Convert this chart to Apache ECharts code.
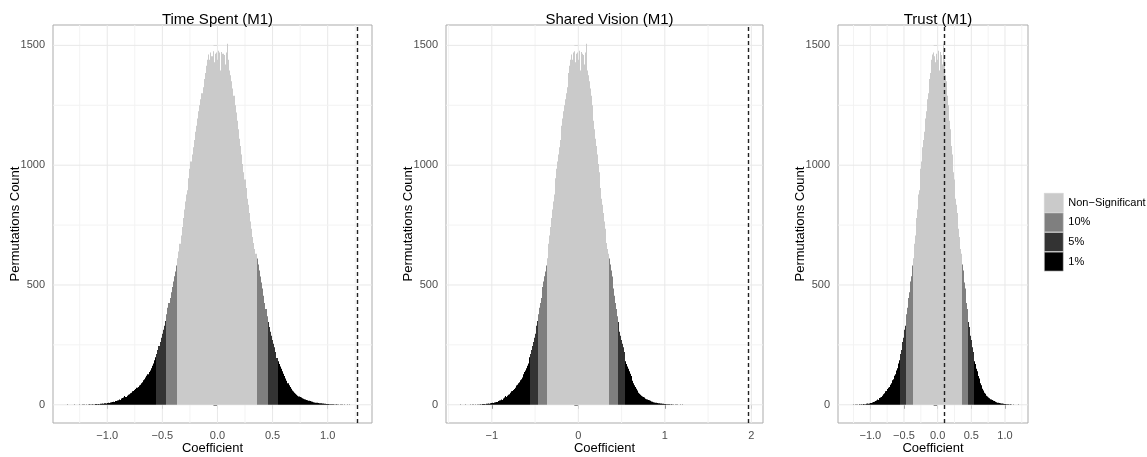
<!DOCTYPE html>
<html>
<head>
<meta charset="utf-8">
<script src="https://cdn.jsdelivr.net/npm/echarts@6/dist/echarts.min.js"></script>
<style>
html,body{margin:0;padding:0;background:#fff;}
#chart{width:1147px;height:457px;}
</style>
</head>
<body>
<div id="chart"></div>
<script>
// ---------------- DATA ----------------
// histogram of permuted coefficients: bins of width 0.01, first bin centred at -1.36
const binCenterStart = -1.36;
const binWidth = 0.01;
const permutationCounts = [
  1,0,0,0,0,0,1,0,0,0,0,1,0,0,1,1,
  0,1,0,1,2,1,1,2,1,3,3,2,3,2,4,4,5,4,6,5,
  7,8,7,10,11,12,13,12,16,18,19,22,20,26,28,30,37,33,38,42,
  44,48,50,56,58,62,66,71,74,81,84,90,94,102,107,114,121,127,137,143,
  152,163,172,186,198,212,229,245,262,280,296,313,330,350,378,405,425,446,470,492,
  515,536,556,581,612,640,672,706,742,780,815,848,878,895,945,985,1015,1045,1075,1105,
  1140,1165,1195,1225,1250,1275,1300,1325,1360,1385,1415,1440,1462,1440,1470,1455,1475,1430,1465,1470,
  1440,1478,1470,1395,1472,1465,1460,1420,1470,1507,1440,1395,1375,1350,1320,1290,1250,1220,1185,1150,
  1110,1080,1045,1005,970,940,905,860,835,800,765,735,700,675,650,630,610,585,560,535,
  510,485,455,425,400,370,345,325,305,288,270,255,240,220,195,182,170,160,150,140,
  130,120,110,100,90,82,74,67,60,55,50,46,42,38,35,32,30,27,25,23,
  22,20,19,17,16,14,13,11,10,9,8,8,7,6,6,5,5,4,4,3,
  3,3,2,2,2,2,1,1,2,1,1,0,1,1,0,1,0,0,1,0,1
];
const panelTitles = ['Time Spent (M1)', 'Shared Vision (M1)', 'Trust (M1)'];
const observedCoefficients = [1.267, 1.97, 0.105];
const significanceLevels = ['Non\u2212Significant', '10%', '5%', '1%'];
const lowerCuts = [-0.365, -0.465, -0.555];
const upperCuts = [0.355, 0.455, 0.545];
const xTickValues = [[-1, -0.5, 0, 0.5, 1], [-1, 0, 1, 2], [-1, -0.5, 0, 0.5, 1]];
const xTickDecimals = [1, 0, 1];
const xMinorValues = [[-1.25, -0.75, -0.25, 0.25, 0.75, 1.25], [-1.5, -0.5, 0.5, 1.5], [-1.25, -0.75, -0.25, 0.25, 0.75, 1.25]];
const yTickValues = [0, 500, 1000, 1500];
const yMinorValues = [250, 750, 1250];
const yAxisTitle = 'Permutations Count';
const xAxisTitle = 'Coefficient';

// ---------------- STYLE / LAYOUT ----------------
const FONT = '"Liberation Sans", Arial, Helvetica, sans-serif';
const levelColors = ['#cacaca', '#7f7f7f', '#333333', '#000000'];
const panels = [
  { left: 53,  width: 319, xMin: -1.492, xMax: 1.402 },
  { left: 446, width: 317, xMin: -1.53,  xMax: 2.135 },
  { left: 838, width: 190, xMin: -1.48,  xMax: 1.342 }
];
const gridTop = 25, gridHeight = 398;
const yMin = -76, yMax = 1585;

function levelOf(center) {
  if (center <= lowerCuts[2] || center >= upperCuts[2]) return 3;
  if (center <= lowerCuts[1] || center >= upperCuts[1]) return 2;
  if (center <= lowerCuts[0] || center >= upperCuts[0]) return 1;
  return 0;
}

// bins split by significance level
const binsByLevel = [[], [], [], []];
permutationCounts.forEach(function (c, i) {
  const center = Math.round((binCenterStart + i * binWidth) * 1000) / 1000;
  const x0 = center - binWidth / 2, x1 = center + binWidth / 2;
  binsByLevel[levelOf(center)].push([x0, x1, c]);
});

function fmtMinus(v, dec) {
  const s = Math.abs(v).toFixed(dec);
  return v < 0 ? '\u2212' + s : s;
}

const grids = [], xAxes = [], yAxes = [], series = [], titles = [];

panels.forEach(function (p, i) {
  grids.push({
    left: p.left, top: gridTop, width: p.width, height: gridHeight,
    outerBoundsMode: 'none', containLabel: false,
    show: true, backgroundColor: '#ffffff', borderColor: '#ababab', borderWidth: 1
  });
  titles.push({
    text: panelTitles[i], left: p.left + p.width / 2, top: 7, textAlign: 'center',
    textStyle: { fontFamily: FONT, fontSize: 15, fontWeight: 'normal', color: '#000' }
  });
  const dec = xTickDecimals[i];
  xAxes.push({
    type: 'value', gridIndex: i, min: p.xMin, max: p.xMax,
    axisLine: { show: false },
    splitLine: { show: false },
    axisTick: { show: true, length: 4, customValues: xTickValues[i], lineStyle: { color: '#666' } },
    axisLabel: {
      customValues: xTickValues[i], margin: 7, interval: 0,
      fontFamily: FONT, fontSize: 11, color: '#4d4d4d',
      formatter: function (v) { return fmtMinus(v, dec); }
    },
    name: xAxisTitle, nameLocation: 'middle', nameGap: 19, nameMoveOverlap: false,
    nameTextStyle: { fontFamily: FONT, fontSize: 13, color: '#000' }
  });
  yAxes.push({
    type: 'value', gridIndex: i, min: yMin, max: yMax,
    axisLine: { show: false },
    splitLine: { show: false },
    axisTick: { show: true, length: 4, customValues: yTickValues, lineStyle: { color: '#666' } },
    axisLabel: {
      customValues: yTickValues, margin: 8, interval: 0,
      fontFamily: FONT, fontSize: 11, color: '#4d4d4d',
      formatter: function (v) { return String(v); }
    },
    name: yAxisTitle, nameLocation: 'middle', nameGap: 31, nameMoveOverlap: false,
    nameTextStyle: { fontFamily: FONT, fontSize: 13, color: '#000' }
  });

  // grid lines (major + minor) drawn through the axes' scales
  const lineData = [];
  xTickValues[i].forEach(function (v) { lineData.push([v, 0, 0, 1]); });
  xMinorValues[i].forEach(function (v) { lineData.push([v, 0, 0, 0]); });
  yTickValues.forEach(function (v) { lineData.push([0, v, 1, 1]); });
  yMinorValues.forEach(function (v) { lineData.push([0, v, 1, 0]); });
  series.push({
    type: 'custom', name: 'grid' + i, xAxisIndex: i, yAxisIndex: i, z: 1, silent: true,
    data: lineData, encode: { x: 0, y: 1 },
    renderItem: function (params, api) {
      const cs = params.coordSys;
      const major = api.value(3) === 1;
      const stroke = major ? '#e8e8e8' : '#f3f3f3';
      if (api.value(2) === 0) {
        const x = api.coord([api.value(0), 0])[0];
        return { type: 'line', shape: { x1: x, y1: cs.y, x2: x, y2: cs.y + cs.height }, style: { stroke: stroke, lineWidth: 1 } };
      } else {
        const y = api.coord([0, api.value(1)])[1];
        return { type: 'line', shape: { x1: cs.x, y1: y, x2: cs.x + cs.width, y2: y }, style: { stroke: stroke, lineWidth: 1 } };
      }
    },
    markLine: {
      silent: true, symbol: ['none', 'none'], animation: false,
      label: { show: false },
      lineStyle: { type: [4, 3], color: '#222222', width: 1.4 },
      emphasis: { disabled: true },
      data: [{ xAxis: observedCoefficients[i] }]
    }
  });

  // histogram bars, one series per significance level
  significanceLevels.forEach(function (name, j) {
    const color = levelColors[j];
    series.push({
      type: 'custom', name: name, xAxisIndex: i, yAxisIndex: i, z: 2, silent: true,
      itemStyle: { color: color },
      data: binsByLevel[j], encode: { x: [0, 1], y: 2 },
      renderItem: function (params, api) {
        const p0 = api.coord([api.value(0), 0]);
        const p1 = api.coord([api.value(1), api.value(2)]);
        const xa = Math.round(p0[0]), xb = Math.round(p1[0]);
        return {
          type: 'rect',
          shape: { x: xa, y: p1[1], width: Math.max(xb - xa, 0), height: p0[1] - p1[1] },
          style: { fill: color }
        };
      }
    });
  });
});

const chart = echarts.init(document.getElementById('chart'), null, { renderer: 'canvas' });
chart.setOption({
  animation: false,
  backgroundColor: '#ffffff',
  title: titles,
  grid: grids,
  xAxis: xAxes,
  yAxis: yAxes,
  legend: {
    data: significanceLevels,
    orient: 'vertical', left: 1044, top: 193, padding: 0,
    itemWidth: 19, itemHeight: 19, itemGap: 0,
    icon: 'rect',
    itemStyle: { borderColor: '#d0d0d0', borderWidth: 0.6 },
    textStyle: { fontFamily: FONT, fontSize: 11, color: '#000' },
    selectedMode: false
  },
  series: series
});
</script>
</body>
</html>
